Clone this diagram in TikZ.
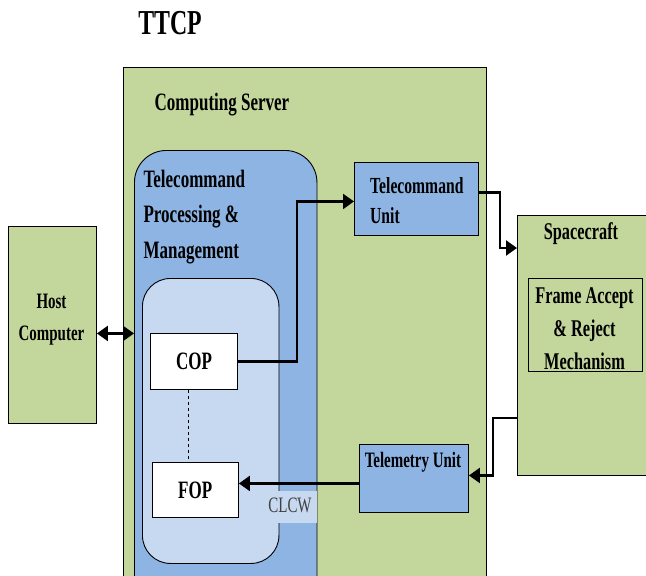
\documentclass[tikz,border=0pt]{standalone}
\usepackage{fontspec}
\setmainfont[FakeStretch=0.68]{Liberation Serif}
\usepackage{xcolor}
\usetikzlibrary{arrows.meta}
\definecolor{srvgreen}{HTML}{C3D69B}
\definecolor{tcblue}{HTML}{8EB4E3}
\definecolor{coplight}{HTML}{C6D9F1}

\begin{document}
\begin{tikzpicture}[x=1pt, y=-1pt,
	box/.style={draw, line width=0.9pt, anchor=north west, inner sep=0pt},
	lbl/.style={font=\bfseries\fontsize{#1}{#1}\selectfont, inner sep=0pt},
	flow/.style={line width=2.2pt, -{Triangle[length=11pt,width=15pt]}}]
	\clip (0,0) rectangle (646,576);
	\fill[white] (0,0) rectangle (646,576);

	\node[box, fill=srvgreen, minimum width=363pt, minimum height=530pt] (server) at (123,67) {};
	\node[box, fill=srvgreen, minimum width=88pt, minimum height=197pt] (host) at (8,226) {};
	\node[box, fill=srvgreen, minimum width=150pt, minimum height=260pt] (craft) at (517,215) {};
	\node[box, fill=srvgreen, minimum width=113.5pt, minimum height=93pt] (frame) at (528,278) {};
	\node[box, fill=tcblue, rounded corners=32pt, minimum width=182.5pt, minimum height=460pt] (tpm) at (134,150) {};
	\node[box, fill=coplight, rounded corners=28pt, minimum width=136.5pt, minimum height=285pt] (inner) at (142,278) {};
	\node[box, fill=tcblue, minimum width=124pt, minimum height=73pt] (tcunit) at (354,162) {};
	\node[box, fill=tcblue, minimum width=109.5pt, minimum height=68pt] (tmunit) at (358.5,444) {};
	\node[box, fill=white, minimum width=87pt, minimum height=56pt, lbl=25] (cop) at (150,333) {COP};
	\node[box, fill=white, minimum width=86.5pt, minimum height=55pt, lbl=25] (fop) at (151.5,462) {FOP};
	\node[fill=coplight, anchor=north west, minimum width=50.5pt, minimum height=32pt, inner sep=0pt] (clcwbg) at (266,491) {};

	% labels (multi-line ones sit on their last line)
	\node[lbl=35, anchor=base] (title) at (170,34) {TTCP};
	\node[lbl=25, anchor=base west] (srvlbl) at (154.5,110) {Computing Server};
	\node[lbl=25, anchor=base west, align=left, font=\bfseries\fontsize{25}{35.5}\selectfont] (tpmlbl) at (143.4,258) {Telecommand\\Processing \&\\Management};
	\node[lbl=23, anchor=base west, align=left, font=\bfseries\fontsize{23}{30}\selectfont] (tculbl) at (370,223) {Telecommand\\Unit};
	\node[lbl=24, anchor=base] (craftlbl) at (581,239) {Spacecraft};
	\node[lbl=24, anchor=base, align=center, font=\bfseries\fontsize{24}{33}\selectfont] (framelbl) at (584.5,369) {Frame Accept\\\& Reject\\Mechanism};
	\node[lbl=22, anchor=base, align=center, font=\bfseries\fontsize{22}{32}\selectfont] (hostlbl) at (51.5,340) {Host\\Computer};
	\node[lbl=22, anchor=base west] (tmulbl) at (364.6,467) {Telemetry Unit};
	\node[inner sep=0pt, anchor=base, text=black!75, font=\fontsize{22}{22}\selectfont] (clcw) at (290,512) {CLCW};

	% connectors
	\coordinate (hostout) at ([yshift=-8.5pt]host.east);
	\draw[line width=2.2pt, {Triangle[length=11pt,width=15pt]}-{Triangle[length=11pt,width=15pt]}] (hostout) -- (tpm.west |- hostout);
	\draw[flow] (cop.east) -- ++(59,0) |- ([yshift=-2.5pt]tcunit.west);
	\draw[flow] ([yshift=6.5pt]tcunit.east) -- ++(21,0) |- ([yshift=-33pt]craft.north west);
	\draw[flow] ([yshift=-203pt]craft.north west) -- ++(-24,0) |- ([yshift=3pt]tmunit.east);
	\coordinate (fopin) at ([yshift=6.5pt]fop.east);
	\draw[flow] (tmunit.west |- fopin) -- (fopin);
	\draw[dashed, line width=0.8pt] ([xshift=-5.5pt]cop.south) -- ([xshift=-5.5pt]cop.south |- fop.north);
\end{tikzpicture}
\end{document}
